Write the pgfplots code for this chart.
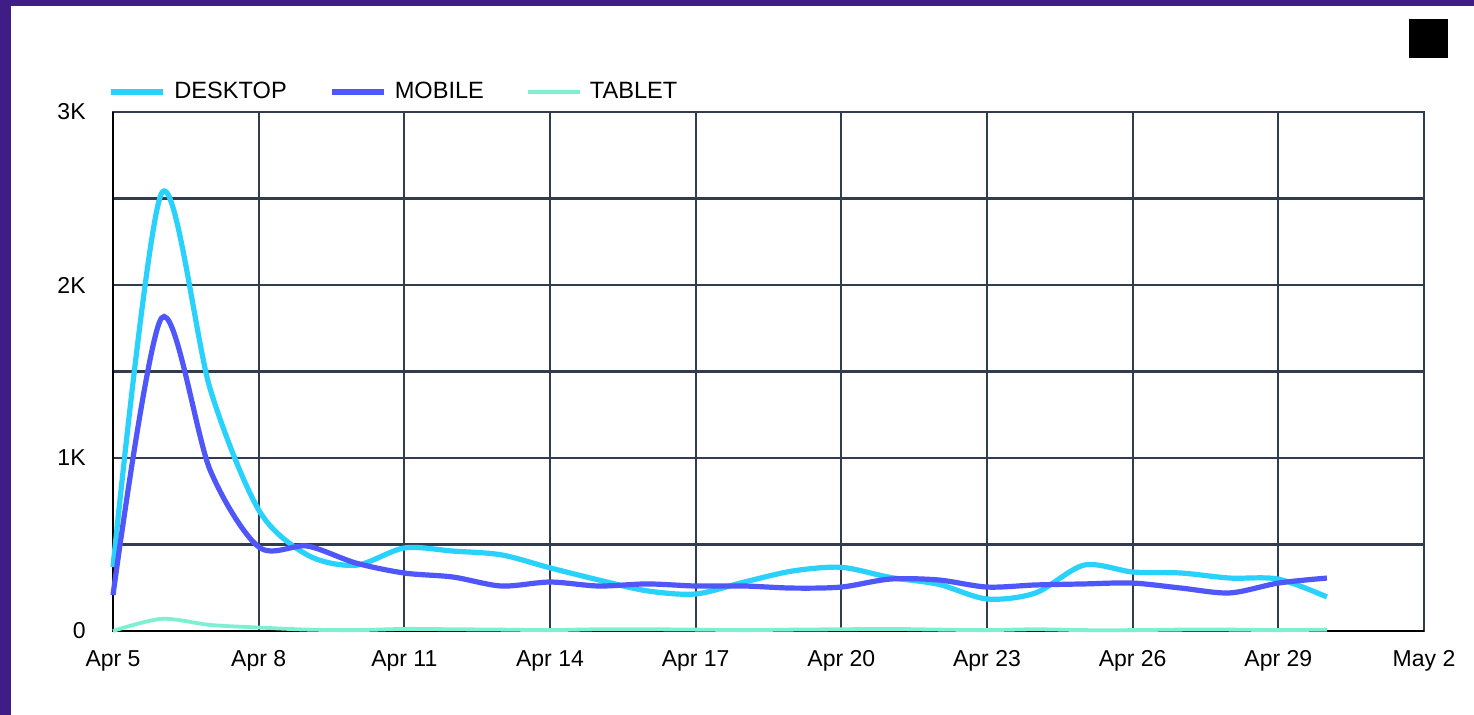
\documentclass[border=0pt]{standalone}
\usepackage{pgfplots}
\pgfplotsset{compat=1.18}
\usepackage{fontspec}
\setmainfont{Liberation Sans}
\definecolor{desk}{HTML}{29D1FD}
\definecolor{mob}{HTML}{5057FA}
\definecolor{tab}{HTML}{7DF0D4}
\definecolor{framec}{HTML}{401C87}
\definecolor{gridc}{HTML}{323C4F}
\pgfplotstableread{
d v
0 370
1 2530
2 1400
3 700
4 440
5 380
6 480
7 462
8 440
9 365
10 295
11 232
12 214
13 283
14 347
15 368
16 310
17 270
18 185
19 220
20 381
21 341
22 335
23 306
24 300
25 197
}\desktop
\pgfplotstableread{
d v
0 208
1 1809
2 930
3 486
4 491
5 393
6 335
7 312
8 260
9 283
10 260
11 272
12 260
13 260
14 248
15 254
16 300
17 295
18 254
19 266
20 272
21 277
22 248
23 220
24 277
25 306
}\mobile
\pgfplotstableread{
d v
0 0
1 70
2 35
3 20
4 8
5 5
6 12
7 10
8 8
9 5
10 10
11 10
12 8
13 5
14 8
15 10
16 12
17 8
18 5
19 10
20 5
21 5
22 8
23 8
24 5
25 8
}\tablet
\begin{document}
\begin{tikzpicture}
\fill[framec] (0,0) rectangle (737pt,357.5pt);
\fill[white] (5.5pt,0) rectangle (737pt,354.5pt);
\fill[black] (704.5pt,328.5pt) rectangle (724pt,348pt);
\begin{axis}[
 at={(56.5pt,42pt)}, anchor=south west,
 scale only axis, width=655.5pt, height=259.5pt,
 xmin=0, xmax=27, ymin=0, ymax=3000,
 xtick={0,3,...,27},
 xticklabels={Apr 5,Apr 8,Apr 11,Apr 14,Apr 17,Apr 20,Apr 23,Apr 26,Apr 29,May 2},
 ytick={0,1000,2000,3000}, yticklabels={0,1K,2K,3K},
 minor ytick={500,1500,2500},
 grid=both,
 grid style={gridc, line width=1.1pt},
 major tick length=0pt, minor tick length=0pt,
 axis line style={gridc, line width=1.2pt},
 tick label style={font=\fontsize{11.5}{14}\selectfont, text=black},
 xticklabel style={inner sep=0pt, yshift=-9.5pt},
 yticklabel style={inner sep=0pt, xshift=-13.5pt},
 clip=false,
 legend columns=3,
 legend style={at={(rel axis cs:0,1)}, anchor=west, xshift=-2.5pt, yshift=10pt,
   draw=none, fill=none, inner sep=0pt, font=\fontsize{11.8}{14}\selectfont,
   nodes={inner sep=0pt},
   /tikz/every odd column/.append style={column sep=4pt},
   /tikz/every even column/.append style={column sep=21pt}},
]
\draw[black, line width=1pt] (rel axis cs:0,1) -- (rel axis cs:0,0) -- (rel axis cs:1,0);
\addplot[desk, line width=2.6pt, smooth, tension=0.5,
  legend image code/.code={\draw[desk, line width=3pt] (0pt,0pt) -- (26pt,0pt);}] table[x=d,y=v] {\desktop};
\addlegendentry{DESKTOP}
\addplot[mob, line width=2.6pt, smooth, tension=0.5,
  legend image code/.code={\draw[mob, line width=3pt] (0pt,0pt) -- (26pt,0pt);}] table[x=d,y=v] {\mobile};
\addlegendentry{MOBILE}
\addplot[tab, line width=1.9pt, smooth, tension=0.5,
  legend image code/.code={\draw[tab, line width=2pt] (0pt,0pt) -- (26pt,0pt);}] table[x=d,y=v] {\tablet};
\addlegendentry{TABLET}
\end{axis}
\end{tikzpicture}
\end{document}
